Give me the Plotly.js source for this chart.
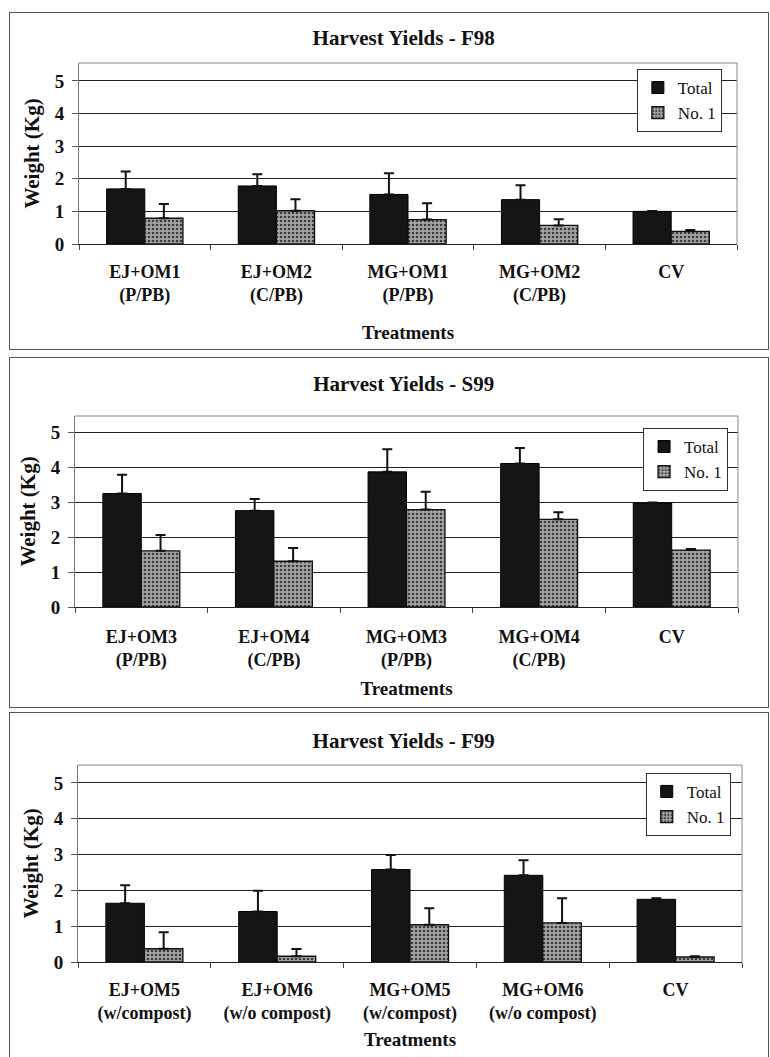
<!DOCTYPE html>
<html>
<head>
<meta charset="utf-8">
<script src="https://cdn.plot.ly/plotly-3.0.1.min.js"></script>
<style>
  html, body { margin: 0; padding: 0; background: #fff; }
  body { width: 770px; height: 1057px; position: relative; overflow: hidden; }
  .panel { position: absolute; box-sizing: border-box; border: 1.5px solid #555; background: #fff; }
</style>
</head>
<body>
<div id="p1" class="panel" style="left:9px; top:12px; width:760px; height:338px;"></div>
<div id="p2" class="panel" style="left:9px; top:357px; width:760px; height:351px;"></div>
<div id="p3" class="panel" style="left:9px; top:712px; width:760px; height:350px;"></div>
<script>
// ---- Data ----
const titles = ["Harvest Yields - F98", "Harvest Yields - S99", "Harvest Yields - F99"];
const seriesNames = ["Total", "No. 1"];

const catsF98 = ["EJ+OM1<br>(P/PB)", "EJ+OM2<br>(C/PB)", "MG+OM1<br>(P/PB)", "MG+OM2<br>(C/PB)", "CV"];
const totalF98 = [1.69, 1.78, 1.52, 1.36, 1.00];
const totalErrF98 = [0.53, 0.36, 0.65, 0.44, 0.01];
const no1F98 = [0.79, 1.02, 0.75, 0.57, 0.39];
const no1ErrF98 = [0.44, 0.35, 0.50, 0.19, 0.04];

const catsS99 = ["EJ+OM3<br>(P/PB)", "EJ+OM4<br>(C/PB)", "MG+OM3<br>(P/PB)", "MG+OM4<br>(C/PB)", "CV"];
const totalS99 = [3.25, 2.76, 3.87, 4.11, 2.98];
const totalErrS99 = [0.54, 0.33, 0.65, 0.44, 0.01];
const no1S99 = [1.61, 1.31, 2.79, 2.51, 1.63];
const no1ErrS99 = [0.45, 0.38, 0.51, 0.20, 0.03];

const catsF99 = ["EJ+OM5<br>(w/compost)", "EJ+OM6<br>(w/o compost)", "MG+OM5<br>(w/compost)", "MG+OM6<br>(w/o compost)", "CV"];
const totalF99 = [1.64, 1.41, 2.58, 2.42, 1.75];
const totalErrF99 = [0.50, 0.58, 0.41, 0.42, 0.03];
const no1F99 = [0.37, 0.16, 1.04, 1.09, 0.14];
const no1ErrF99 = [0.46, 0.20, 0.46, 0.69, 0.02];

const xTitle = "Treatments";
const yTitle = "Weight (Kg)";
const yTicks = [0, 1, 2, 3, 4, 5];

// ---- Styling / drawing ----
const FONT = "Liberation Serif, Times New Roman, serif";

function makePanel(id, cfg) {
  const zeros = cfg.cats.map(() => 0);
  const errStyle = { type: 'data', symmetric: false, arrayminus: zeros, color: '#111', thickness: 2, width: 5 };
  const traces = [
    {
      type: 'bar', name: seriesNames[0], x: cfg.cats, y: cfg.total,
      marker: { color: '#151515', line: { color: '#000', width: 1 } },
      error_y: Object.assign({ array: cfg.totalErr }, errStyle)
    },
    {
      type: 'bar', name: seriesNames[1], x: cfg.cats, y: cfg.no1,
      marker: { color: '#8f8f8f', line: { color: '#111', width: 1.3 },
        pattern: { shape: '.', bgcolor: '#a4a4a4', fgcolor: '#3c3c3c', size: 4, solidity: 0.35, fillmode: 'replace' } },
      error_y: Object.assign({ array: cfg.no1Err }, errStyle)
    }
  ];
  const layout = {
    width: cfg.w, height: cfg.h,
    margin: cfg.margin,
    paper_bgcolor: 'rgba(0,0,0,0)', plot_bgcolor: '#fff',
    font: { family: FONT, color: '#111', size: 17 },
    title: { text: cfg.title, x: 0.52, xanchor: 'center', y: cfg.titleY, yanchor: 'middle', yref: 'container',
      font: { family: FONT, size: 21, weight: 'bold', color: '#111' } },
    barmode: 'group', bargap: 0.42, bargroupgap: 0.0,
    showlegend: true,
    legend: { x: cfg.legX, xanchor: 'right', y: cfg.legY, yanchor: 'top', bgcolor: '#fff',
      bordercolor: '#333', borderwidth: 1, font: { family: FONT, size: 17, color: '#111' },
      tracegroupgap: 0, itemwidth: 30 },
    xaxis: {
      type: 'category', showline: true, linecolor: '#222', linewidth: 1, mirror: false,
      ticks: 'outside', tickson: 'boundaries', ticklen: 5, tickcolor: '#444',
      ticklabelstandoff: cfg.xLabStandoff,
      tickfont: { family: FONT, size: 18, weight: 'bold', color: '#111' },
      title: { text: xTitle, standoff: cfg.xStandoff, font: { family: FONT, size: 19, weight: 'bold', color: '#111' } },
      automargin: false
    },
    yaxis: {
      range: [0, cfg.ymax], tickvals: yTicks, showgrid: true, gridcolor: '#222', gridwidth: 1,
      zeroline: false, showline: true, linecolor: '#777', linewidth: 1,
      ticks: 'outside', ticklen: 6, tickcolor: '#555', ticklabelstandoff: 4,
      tickfont: { family: FONT, size: 19, weight: 'bold', color: '#111' },
      title: { text: yTitle, standoff: 9, font: { family: FONT, size: 21, weight: 'bold', color: '#111' } },
      automargin: false
    },
    shapes: [
      { type: 'line', xref: 'paper', yref: 'paper', x0: 0, x1: 1, y0: 1, y1: 1, line: { color: '#888', width: 1 } },
      { type: 'line', xref: 'paper', yref: 'paper', x0: 1, x1: 1, y0: 0, y1: 1, line: { color: '#888', width: 1 } }
    ]
  };
  Plotly.newPlot(id, traces, layout, { displayModeBar: false, staticPlot: true });
}

makePanel('p1', { cats: catsF98, total: totalF98, totalErr: totalErrF98, no1: no1F98, no1Err: no1ErrF98,
  title: titles[0], w: 757, h: 335, margin: { l: 69, r: 30, t: 50, b: 104 }, ymax: 5.55,
  titleY: 0.926, legX: 0.977, legY: 0.967, xLabStandoff: 11, xStandoff: 20 });
makePanel('p2', { cats: catsS99, total: totalS99, totalErr: totalErrS99, no1: no1S99, no1Err: no1ErrS99,
  title: titles[1], w: 757, h: 348, margin: { l: 65, r: 29, t: 58, b: 99 }, ymax: 5.47,
  titleY: 0.926, legX: 0.985, legY: 0.9375, xLabStandoff: 13, xStandoff: 11 });
makePanel('p3', { cats: catsF99, total: totalF99, totalErr: totalErrF99, no1: no1F99, no1Err: no1ErrF99,
  title: titles[2], w: 757, h: 347, margin: { l: 68, r: 25, t: 52, b: 98 }, ymax: 5.5,
  titleY: 0.92, legX: 0.983, legY: 0.96, xLabStandoff: 11, xStandoff: 9 });
</script>
</body>
</html>
